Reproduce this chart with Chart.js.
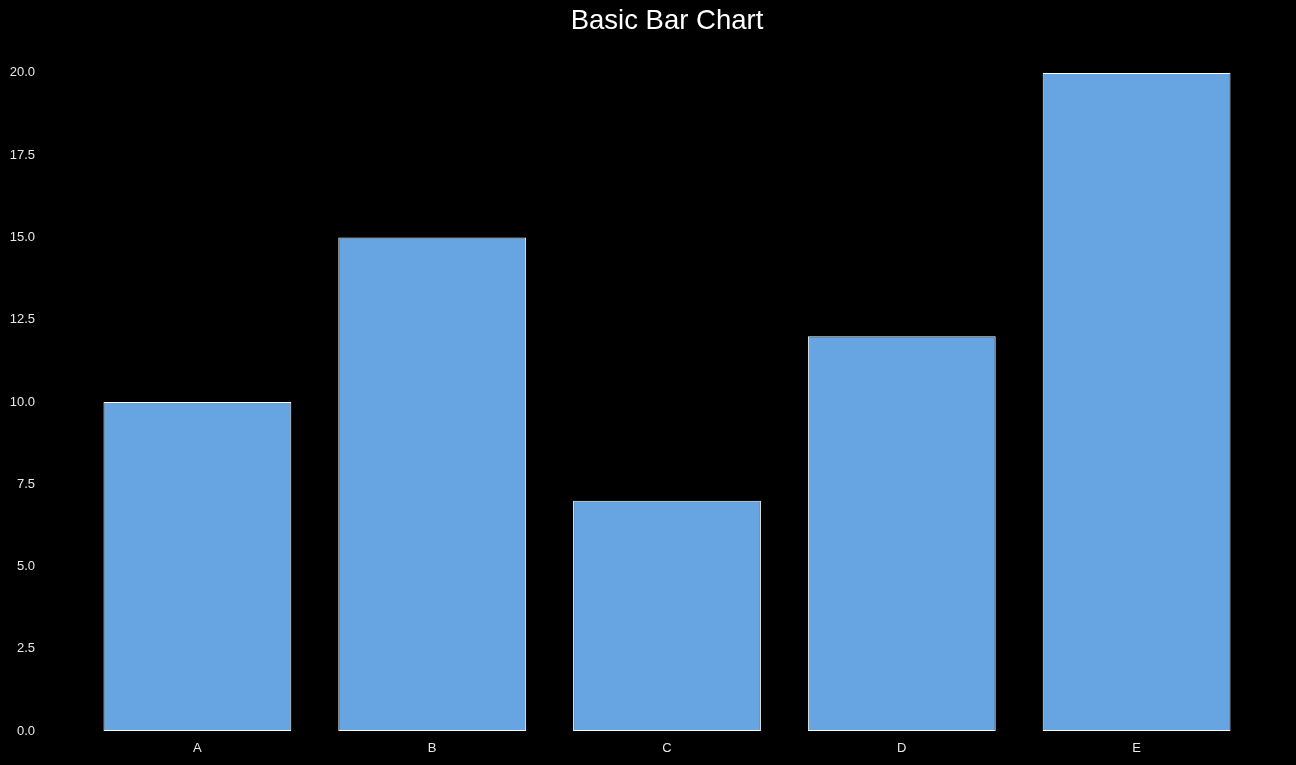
<!DOCTYPE html>
<html>
<head>
<meta charset="utf-8">
<script src="https://cdn.jsdelivr.net/npm/chart.js@4/dist/chart.umd.min.js"></script>
<style>
  html, body { margin: 0; padding: 0; background: #000; }
  #wrap { width: 1296px; height: 765px; }
</style>
</head>
<body>
<div id="wrap"><canvas id="barChart"></canvas></div>
<script>
/* ================= DATA ================= */
const categories = ["A", "B", "C", "D", "E"];
const values = [10, 15, 7, 12, 20];
const yTicks = [0, 2.5, 5, 7.5, 10, 12.5, 15, 17.5, 20];

const FONT = "'Liberation Sans', Arial, sans-serif";

/* ================= CHART ================= */
const ctx = document.getElementById("barChart").getContext("2d");
const chart = new Chart(ctx, {
    type: "bar",
    data: {
        labels: categories,
        datasets: [{
            data: values,
            backgroundColor: "#66a5e2",
            borderColor: "#ffffff",
            borderWidth: 1,
            borderSkipped: false,
            barPercentage: 0.8,
            categoryPercentage: 1.0
        }]
    },
    options: {
        responsive: true,
        maintainAspectRatio: false,
        animation: false,
        layout: { padding: { left: 0, right: 42, top: 0, bottom: 0 } },
        plugins: {
            legend: { display: false },
            tooltip: { enabled: false },
            title: {
                display: true,
                fullSize: false,   // centred over the plot, not the canvas
                text: "Basic Bar Chart",
                color: "#ffffff",
                font: { family: FONT, size: 27.5, weight: "normal" },
                padding: { top: 5, bottom: 2 }
            }
        },
        scales: {
            x: {
                grid: { display: false, drawTicks: false },
                border: { display: false },
                afterFit: scale => { scale.height = 34; },
                ticks: { color: "#e8e8e8", font: { family: FONT, size: 13 }, padding: 10 }
            },
            y: {
                min: 0,
                max: 21,
                grid: { display: false, drawTicks: false },
                border: { display: false },
                afterBuildTicks: scale => { scale.ticks = yTicks.map(v => ({ value: v })); },
                // fixed width; drop the label padding so the plot keeps its full height
                afterFit: scale => {
                    scale.width = 80;
                    scale.paddingTop = 0;
                    scale.paddingBottom = 0;
                },
                ticks: {
                    color: "#e8e8e8",
                    font: { family: FONT, size: 13 },
                    padding: 45,
                    callback: v => v.toFixed(1)
                }
            }
        }
    }
});
</script>
</body>
</html>
